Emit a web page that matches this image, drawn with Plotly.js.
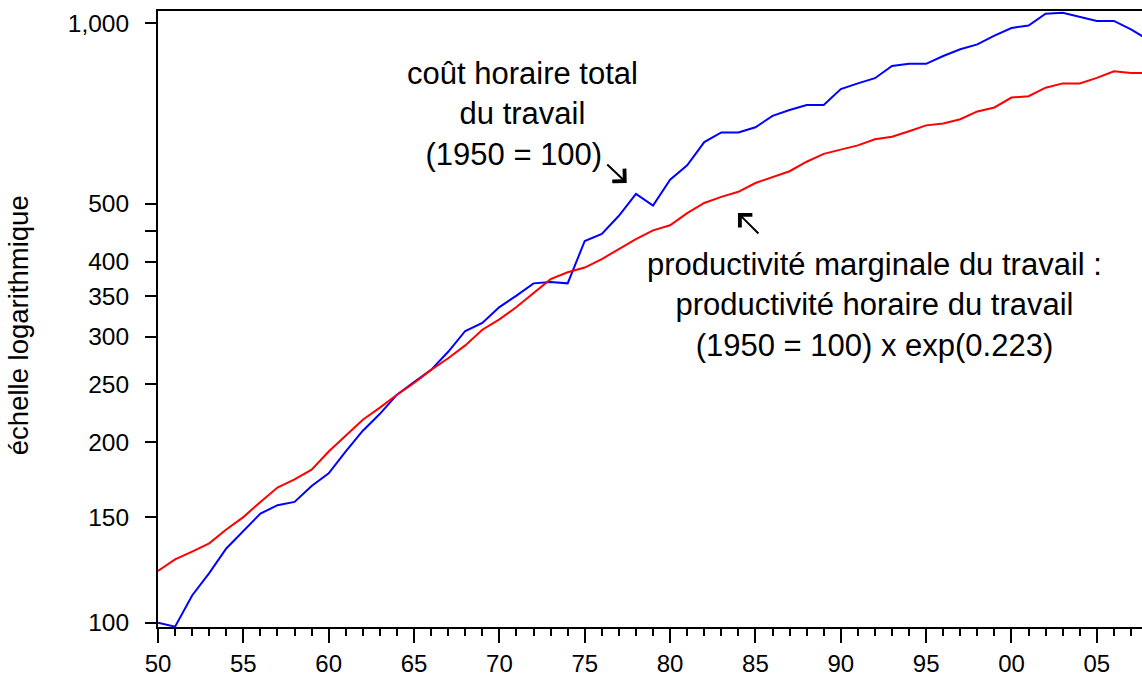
<!DOCTYPE html>
<html>
<head>
<meta charset="utf-8">
<script src="https://cdn.plot.ly/plotly-3.0.1.min.js"></script>
<style>
html, body { margin: 0; padding: 0; overflow: hidden; background: #fff; }
#chart { width: 1160px; height: 679px; }
</style>
</head>
<body>
<div id="chart"></div>
<script>
// ---- Data ----
const years = [1950,1951,1952,1953,1954,1955,1956,1957,1958,1959,
               1960,1961,1962,1963,1964,1965,1966,1967,1968,1969,
               1970,1971,1972,1973,1974,1975,1976,1977,1978,1979,
               1980,1981,1982,1983,1984,1985,1986,1987,1988,1989,
               1990,1991,1992,1993,1994,1995,1996,1997,1998,1999,
               2000,2001,2002,2003,2004,2005,2006,2007,2008];

// coût horaire total du travail (1950 = 100)
const coutHoraire = [100, 98.5, 111, 121, 133, 142, 152, 157, 159, 169,
                     177.5, 193, 209, 223, 240, 252, 264, 283, 306.5, 316,
                     336, 351, 368, 370, 368, 433, 445, 477, 519, 496,
                     548, 579, 633, 657, 657, 670, 700, 716, 730, 730,
                     776, 793, 809, 848, 855, 855, 881, 904, 921, 953,
                     981, 990, 1036, 1040, 1024, 1008, 1008, 976, 938];

// productivité marginale du travail
const productivite = [122, 127.5, 131.4, 135.6, 143, 150, 159, 168, 173.4, 180,
                      193, 205.5, 218, 228.4, 240, 251, 264, 276, 290, 308,
                      320.5, 336, 354, 374, 384, 391, 404, 420, 436, 451,
                      460, 482, 501, 513, 523, 541, 553, 566, 587, 605,
                      615, 625, 640, 646, 660, 675, 680, 691, 712, 723,
                      751, 755, 780, 793, 793, 810, 831, 825, 825];

const xTickVals = [1950,1955,1960,1965,1970,1975,1980,1985,1990,1995,2000,2005];
const xTickText = ['50','55','60','65','70','75','80','85','90','95','00','05'];
const yTickVals = [100,150,200,250,300,350,400,450,500,1000];
const yTickText = ['100','150','200','250','300','350','400','','500','1,000'];

const labelCout = 'coût horaire total<br>du travail<br>(1950 = 100)&nbsp;&nbsp;';
const labelProd = 'productivité marginale du travail :<br>productivité horaire du travail<br>(1950 = 100) x exp(0.223)';
const yTitle = 'échelle logarithmique';

// ---- Chart ----
const FONT = '"Liberation Sans", Arial, sans-serif';

const traces = [
  { x: years, y: coutHoraire, type: 'scatter', mode: 'lines',
    line: { color: '#0000FF', width: 2 }, hoverinfo: 'skip' },
  { x: years, y: productivite, type: 'scatter', mode: 'lines',
    line: { color: '#FF0000', width: 2 }, hoverinfo: 'skip' }
];

const layout = {
  width: 1160, height: 679,
  margin: { l: 158, r: 0, t: 11, b: 52, pad: 0 },
  paper_bgcolor: '#fff', plot_bgcolor: '#fff',
  showlegend: false,
  font: { family: FONT, color: '#000' },
  xaxis: {
    range: [1950, 2008.7],
    showgrid: false, zeroline: false,
    showline: true, linecolor: '#000', linewidth: 2, mirror: true,
    ticks: 'outside', ticklen: 14, tickwidth: 2, tickcolor: '#000',
    tickvals: xTickVals, ticktext: xTickText,
    tickfont: { size: 24, family: FONT, color: '#000' },
    ticklabelstandoff: 0,
    minor: { dtick: 1, tick0: 1950, ticks: 'outside', ticklen: 7, tickwidth: 2, tickcolor: '#000', showgrid: false }
  },
  yaxis: {
    type: 'log',
    range: [1.99283, 3.0200],
    showgrid: false, zeroline: false,
    showline: true, linecolor: '#000', linewidth: 2, mirror: true,
    ticks: 'outside', ticklen: 11, tickwidth: 2, tickcolor: '#000',
    tickvals: yTickVals, ticktext: yTickText,
    tickfont: { size: 24.5, family: FONT, color: '#000' },
    ticklabelstandoff: 11
  },
  annotations: [
    { xref: 'paper', yref: 'paper', x: -0.1397, y: 0.49, text: yTitle,
      textangle: -90, showarrow: false, xanchor: 'center', yanchor: 'middle',
      font: { size: 27.5, family: FONT, color: '#000' } },
    { xref: 'paper', yref: 'paper', x: 0.3633, y: 0.8328, text: labelCout,
      showarrow: false, xanchor: 'center', yanchor: 'middle', align: 'center',
      font: { size: 31, family: FONT, color: '#000' } },
    { xref: 'paper', yref: 'paper', x: 0.7146, y: 0.522, text: labelProd,
      showarrow: false, xanchor: 'center', yanchor: 'middle', align: 'center',
      font: { size: 31, family: FONT, color: '#000' } },
    { xref: 'paper', yref: 'paper', x: 0.4678, y: 0.7208, text: '',
      showarrow: true, ax: -21, ay: -20, arrowhead: 4, arrowsize: 1.7,
      arrowwidth: 2, arrowcolor: '#000', standoff: 0 },
    { xref: 'paper', yref: 'paper', x: 0.5788, y: 0.6721, text: '',
      showarrow: true, ax: 22, ay: 22, arrowhead: 4, arrowsize: 1.7,
      arrowwidth: 2, arrowcolor: '#000', standoff: 0 }
  ]
};

Plotly.newPlot('chart', traces, layout, { displayModeBar: false, staticPlot: true });
</script>
</body>
</html>
